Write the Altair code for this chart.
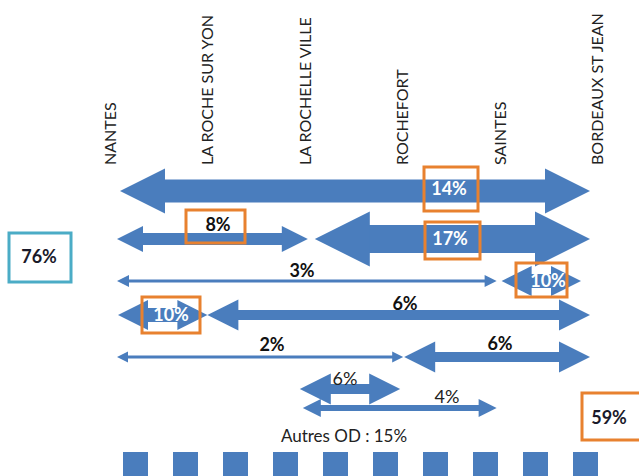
import altair as alt
import pandas as pd

# ---------------- data ----------------
STATIONS = ["NANTES", "LA ROCHE SUR YON", "LA ROCHELLE VILLE",
            "ROCHEFORT", "SAINTES", "BORDEAUX ST JEAN"]
FLOW_FROM = [0, 0, 2, 0, 4, 0, 1, 0, 3, 2, 2]
FLOW_TO = [5, 2, 5, 4, 5, 1, 5, 3, 5, 3, 4]
FLOW_SHARE = [14, 8, 17, 3, 10, 10, 6, 2, 6, 6, 4]
FLOW_LANE = [1, 2, 2, 3, 3, 4, 4, 5, 5, 6, 7]
FLOW_HIGHLIGHT = [1, 1, 1, 0, 1, 1, 0, 0, 0, 0, 0]
TOTAL_LEFT = "76%"
TOTAL_RIGHT = "59%"
OTHER_OD = "Autres OD : 15%"
SQUARES = list(range(10))

# ---------------- layout / style ----------------
W, H = 639, 476
X0, STEP = 111.0, 97.4          # station 0 position and station spacing (px)


def sx(px):
    return (px - X0) / STEP


BLUE = "#4A7DBD"
ORANGE = "#E8812F"
TEAL = "#4BACC6"
FONT = "Lato"
# per arrow: (left tip offset, right tip offset) from the station positions, px
TIP_OFFSET = [(9, -8), (6, 2), (9, -8), (6, -4), (1, -17), (7, -1),
              (-1, -8), (6, 0), (1, -8), (-6, -3), (-3, -4)]
LANE_Y = {1: 191, 2: 239, 3: 281, 4: 315, 5: 357, 6: 389, 7: 408}
# share -> (head length == head height, shaft half height) in px
ARROW_SIZE = {2: (11, 1.5), 3: (12, 1.5), 4: (18, 3), 6: (31, 5),
              8: (26, 6), 10: (30, 7), 14: (45, 11.5), 17: (55, 14)}
LABEL_PX = [(449, 190), (218, 226), (450, 240), (302, 272), (548, 282), (171, 316),
            (405, 305), (272, 346), (500, 345), (345, 380), (447, 398)]
LABEL_INSIDE = [1, 0, 1, 0, 1, 1, 0, 0, 0, 0, 0]
LABEL_BOLD = [1, 1, 1, 1, 1, 1, 1, 1, 1, 0, 0]
BOX_PX = {0: (424, 478, 167, 211), 1: (186, 245, 210, 243), 2: (425, 480, 222, 259),
          4: (516, 567, 263, 297), 5: (142, 200, 297, 333)}
LEFT_HEAD = "M-1,0L1,-1L1,1Z"
RIGHT_HEAD = "M1,0L-1,-1L-1,1Z"

# ---------------- tables ----------------
shafts, heads = [], []
for i, (a, b, s, lane) in enumerate(zip(FLOW_FROM, FLOW_TO, FLOW_SHARE, FLOW_LANE)):
    hl, sh = ARROW_SIZE[s]
    c = LANE_Y[lane]
    xl = X0 + STEP * a + TIP_OFFSET[i][0]
    xr = X0 + STEP * b + TIP_OFFSET[i][1]
    shafts.append({"x": sx(xl + hl - 1), "x2": sx(xr - hl + 1), "y": c - sh, "y2": c + sh})
    heads.append({"x": sx(xl + hl / 2), "y": c, "size": hl * hl, "side": "L"})
    heads.append({"x": sx(xr - hl / 2), "y": c, "size": hl * hl, "side": "R"})
shaft_df = pd.DataFrame(shafts)
head_df = pd.DataFrame(heads)

labels = []
for i, s in enumerate(FLOW_SHARE):
    px, py = LABEL_PX[i]
    labels.append({"x": sx(px), "y": py, "text": f"{s}%",
                   "col": "white" if LABEL_INSIDE[i] else ("#111111" if LABEL_BOLD[i] else "#222222"),
                   "bold": LABEL_BOLD[i]})
lab_df = pd.DataFrame(labels)

boxes = []
for i, hl in enumerate(FLOW_HIGHLIGHT):
    if hl:
        x1, x2, y1, y2 = BOX_PX[i]
        boxes.append({"x": sx(x1), "x2": sx(x2), "y": y1, "y2": y2, "col": ORANGE})
boxes.append({"x": sx(9), "x2": sx(71), "y": 233, "y2": 282, "col": TEAL})
boxes.append({"x": sx(582), "x2": sx(648), "y": 393, "y2": 440, "col": ORANGE})
box_df = pd.DataFrame(boxes)

totals_df = pd.DataFrame([
    {"x": sx(39), "y": 258, "text": TOTAL_LEFT},
    {"x": sx(609), "y": 419, "text": TOTAL_RIGHT},
])
other_df = pd.DataFrame([{"x": sx(344), "y": 437, "text": OTHER_OD}])
st_df = pd.DataFrame({"x": list(range(len(STATIONS))), "y": [165] * len(STATIONS), "name": STATIONS})
sq_df = pd.DataFrame({"k": SQUARES})
sq_df["x"] = [sx(123 + 50 * k) for k in SQUARES]
sq_df["x2"] = [sx(148 + 50 * k) for k in SQUARES]
sq_df["y"] = 452
sq_df["y2"] = 490

xs = alt.Scale(domain=[sx(0), sx(W)], nice=False, zero=False)
ys = alt.Scale(domain=[0, H], nice=False, zero=False, reverse=True)


def X(f):
    return alt.X(f, type="quantitative", scale=xs, axis=None)


def Y(f):
    return alt.Y(f, type="quantitative", scale=ys, axis=None)


shaft_layer = alt.Chart(shaft_df).mark_rect(color=BLUE, clip=True).encode(
    x=X("x"), x2="x2:Q", y=Y("y"), y2="y2:Q")
lhead = alt.Chart(head_df[head_df.side == "L"]).mark_point(
    shape=LEFT_HEAD, filled=True, color=BLUE, opacity=1, strokeWidth=0).encode(
    x=X("x"), y=Y("y"), size=alt.Size("size:Q", scale=None, legend=None))
rhead = alt.Chart(head_df[head_df.side == "R"]).mark_point(
    shape=RIGHT_HEAD, filled=True, color=BLUE, opacity=1, strokeWidth=0).encode(
    x=X("x"), y=Y("y"), size=alt.Size("size:Q", scale=None, legend=None))

box_layer = alt.Chart(box_df).mark_rect(fillOpacity=0, strokeWidth=3, clip=True).encode(
    x=X("x"), x2="x2:Q", y=Y("y"), y2="y2:Q",
    stroke=alt.Color("col:N", scale=None))

squares = alt.Chart(sq_df).mark_rect(color=BLUE, clip=True).encode(
    x=X("x"), x2="x2:Q", y=Y("y"), y2="y2:Q")

bold_lab = alt.Chart(lab_df[lab_df.bold == 1]).mark_text(
    font=FONT, fontSize=18, fontWeight="bold", baseline="middle").encode(
    x=X("x"), y=Y("y"), text="text:N", color=alt.Color("col:N", scale=None))
norm_lab = alt.Chart(lab_df[lab_df.bold == 0]).mark_text(
    font=FONT, fontSize=18, baseline="middle").encode(
    x=X("x"), y=Y("y"), text="text:N", color=alt.Color("col:N", scale=None))
tot = alt.Chart(totals_df).mark_text(
    font=FONT, fontSize=18, fontWeight="bold", baseline="middle", color="#1a1a2a").encode(
    x=X("x"), y=Y("y"), text="text:N")
oth = alt.Chart(other_df).mark_text(
    font=FONT, fontSize=17, baseline="middle", color="#222222").encode(
    x=X("x"), y=Y("y"), text="text:N")
stations = alt.Chart(st_df).mark_text(
    font=FONT, fontSize=16, angle=270, align="left", baseline="middle", color="#222222").encode(
    x=X("x"), y=Y("y"), text="name:N")

chart = alt.layer(shaft_layer, lhead, rhead, squares, box_layer, bold_lab, norm_lab,
                  tot, oth, stations).properties(
    width=W, height=H, padding=0, autosize=alt.AutoSizeParams(type="none"),
    background="white").configure_view(stroke=None)

chart.save("out.html", embed_options={"renderer": "svg", "actions": False})
